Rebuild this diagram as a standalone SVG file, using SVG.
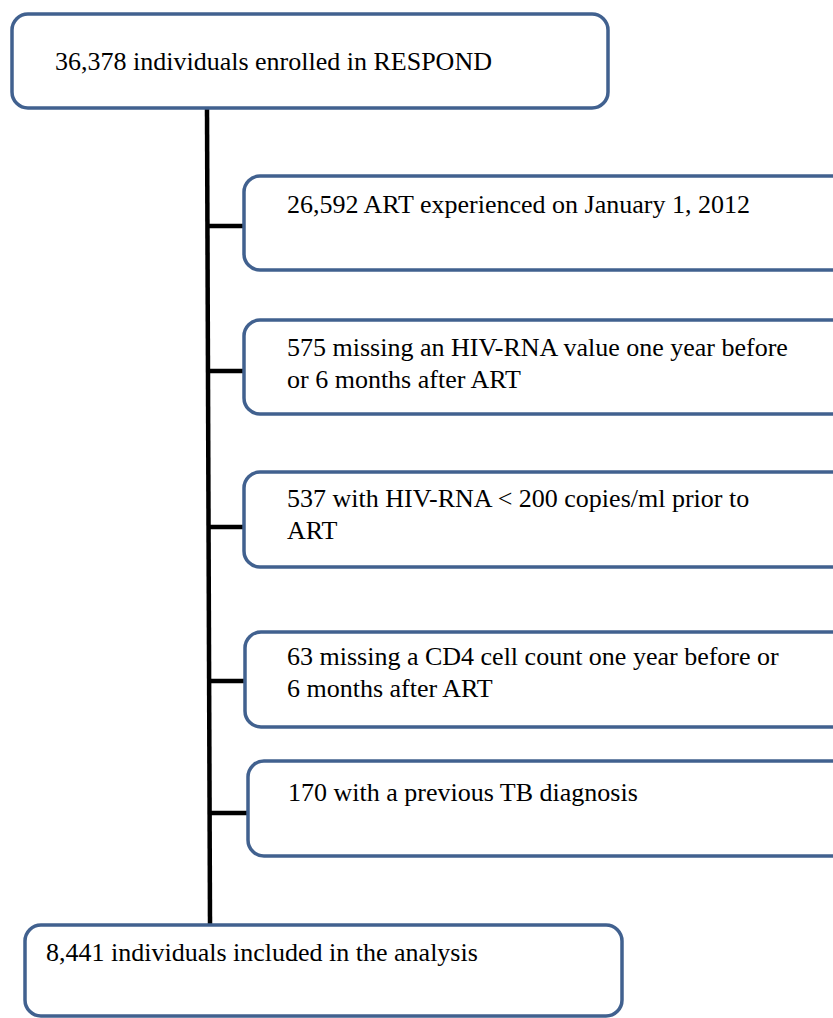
<svg xmlns="http://www.w3.org/2000/svg" width="833" height="1018" viewBox="0 0 833 1018">
<style>
.box{fill:#fff;stroke:#41618f;stroke-width:3.5}
.t{font-family:"Liberation Serif","Times New Roman",serif;font-size:26px;fill:#000}
.c{stroke:#000;stroke-width:4.5;fill:none}
</style>
<rect width="833" height="1018" fill="#fff"/>
<g id="connectors">
<line class="c" x1="207" y1="108" x2="210" y2="924"/>
<line class="c" x1="207" y1="226" x2="245" y2="226"/>
<line class="c" x1="208" y1="371" x2="245" y2="371"/>
<line class="c" x1="208" y1="527" x2="245" y2="527"/>
<line class="c" x1="209" y1="681" x2="246" y2="681"/>
<line class="c" x1="209" y1="813" x2="249" y2="813"/>
</g>
<g id="n1"><rect class="box" x="12" y="14" width="596" height="94" rx="16"/>
<text class="t" x="55" y="70">36,378 individuals enrolled in RESPOND</text></g>
<g id="n2"><rect class="box" x="244" y="176" width="610" height="94" rx="16"/>
<text class="t" x="287" y="213">26,592 ART experienced on January 1, 2012</text></g>
<g id="n3"><rect class="box" x="244" y="320" width="610" height="94" rx="16"/>
<text class="t" x="287" y="356">575 missing an HIV-RNA value one year before</text>
<text class="t" x="287" y="388">or 6 months after ART</text></g>
<g id="n4"><rect class="box" x="244" y="472" width="610" height="95" rx="16"/>
<text class="t" x="287" y="507">537 with HIV-RNA &lt; 200 copies/ml prior to</text>
<text class="t" x="287" y="539">ART</text></g>
<g id="n5"><rect class="box" x="245" y="632" width="610" height="95" rx="16"/>
<text class="t" x="287" y="665">63 missing a CD4 cell count one year before or</text>
<text class="t" x="287" y="697">6 months after ART</text></g>
<g id="n6"><rect class="box" x="248" y="761" width="610" height="95" rx="16"/>
<text class="t" x="288" y="801">170 with a previous TB diagnosis</text></g>
<g id="n7"><rect class="box" x="25" y="925" width="597" height="91" rx="16"/>
<text class="t" x="46" y="961">8,441 individuals included in the analysis</text></g>
</svg>
